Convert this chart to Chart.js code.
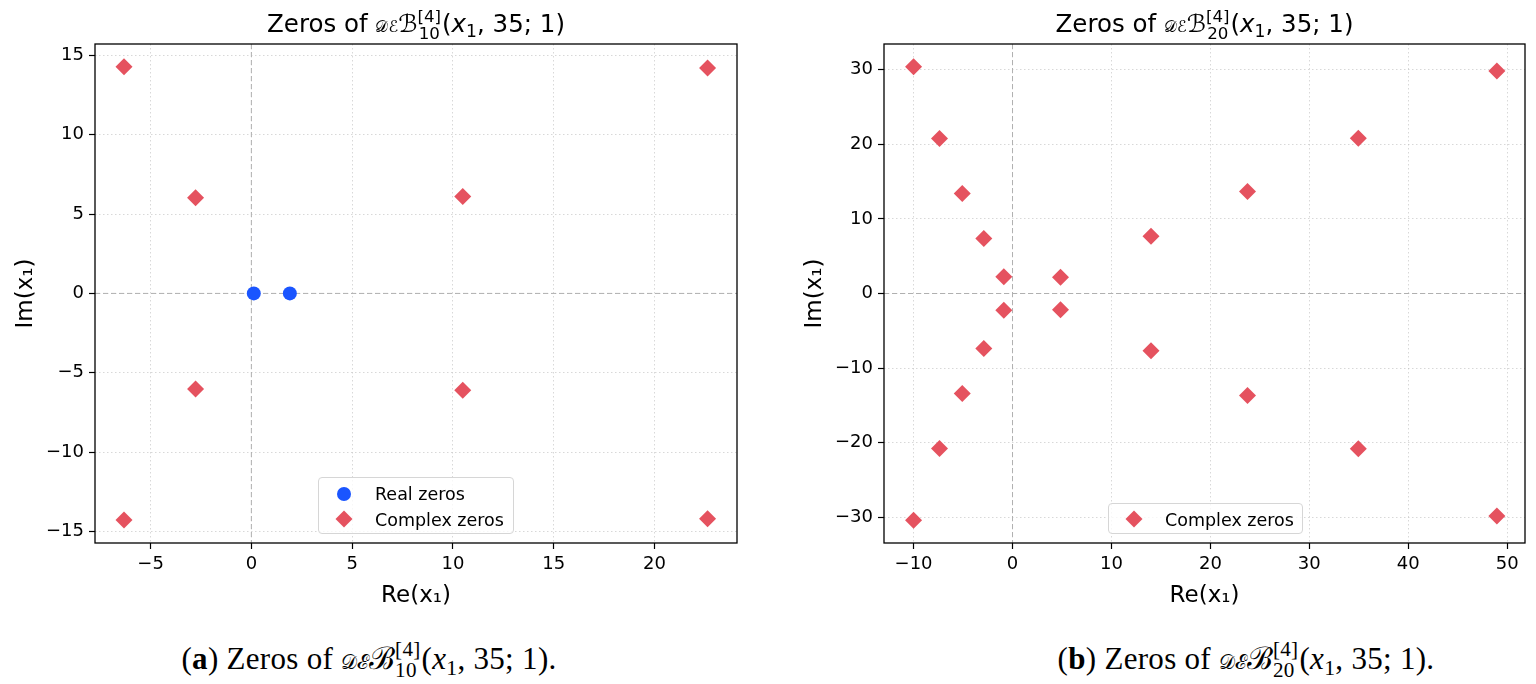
<!DOCTYPE html>
<html><head><meta charset="utf-8">
<script src="https://cdn.jsdelivr.net/npm/chart.js@4.4.1/dist/chart.umd.min.js"></script>
<style>
html,body{margin:0;padding:0;background:#fff;}
body{width:1536px;height:684px;position:relative;overflow:hidden;font-family:"DejaVu Sans",sans-serif;color:#000;}
.box{position:absolute;top:0;height:610px;width:768px;}
.title{position:absolute;top:9px;font-size:24.5px;line-height:1.2;text-align:center;white-space:nowrap;}
.pre{font-size:0.66em;}
.ss{display:inline-flex;flex-direction:column;font-size:0.68em;line-height:1;vertical-align:0.63em;margin-right:1px;}
.sub1{font-size:0.7em;vertical-align:-0.28em;}
.legend{position:absolute;border:1px solid #d6d6d6;border-radius:4px;background:rgba(255,255,255,0.8);font-size:17.5px;box-sizing:border-box;}
.item{position:absolute;white-space:nowrap;line-height:20px;}
.dot{position:absolute;width:14px;height:14px;border-radius:50%;background:#1a55ff;}
.dia{position:absolute;width:12px;height:12px;background:#e5525f;transform:rotate(45deg);}
.caption{position:absolute;top:639px;font-family:"Liberation Serif","DejaVu Serif",serif;font-size:31px;letter-spacing:0.3px;line-height:1.2;white-space:nowrap;transform:translateX(-50%);}
.caption .ss{font-size:0.68em;}
</style></head>
<body>
<div class="box" style="left:0"><canvas id="cA"></canvas></div>
<div class="box" style="left:768px"><canvas id="cB"></canvas></div>

<div class="title" style="left:95px;width:642px">Zeros of <span class="pre">𝒟ℰ</span>ℬ<span class="ss"><span>[4]</span><span>10</span></span>(<i>x</i><span class="sub1">1</span>, 35; 1)</div>
<div class="title" style="left:884px;width:641px">Zeros of <span class="pre">𝒟ℰ</span>ℬ<span class="ss"><span>[4]</span><span>20</span></span>(<i>x</i><span class="sub1">1</span>, 35; 1)</div>

<div class="legend" style="left:318px;top:477px;width:196px;height:57px">
  <div class="dot" style="left:18px;top:8.7px"></div>
  <div class="item" style="left:56px;top:5.7px">Real zeros</div>
  <div class="dia" style="left:19px;top:35.3px"></div>
  <div class="item" style="left:56px;top:32.3px">Complex zeros</div>
</div>
<div class="legend" style="left:1108px;top:503px;width:195px;height:31px">
  <div class="dia" style="left:18.7px;top:8.7px"></div>
  <div class="item" style="left:56px;top:5.7px">Complex zeros</div>
</div>

<div class="caption" style="left:369px">(<b>a</b>) Zeros of <span class="pre">𝒟ℰ</span>ℬ<span class="ss"><span>[4]</span><span>10</span></span>(<i>x</i><span class="sub1">1</span>, 35; 1).</div>
<div class="caption" style="left:1246px">(<b>b</b>) Zeros of <span class="pre">𝒟ℰ</span>ℬ<span class="ss"><span>[4]</span><span>20</span></span>(<i>x</i><span class="sub1">1</span>, 35; 1).</div>

<script>
// ---- data (a): degree 10 ----
const realA_re = [0.12, 1.91];
const realA_im = [0, 0];
const complexA_re = [-6.32, -6.32, -2.77, -2.77, 10.49, 10.49, 22.64, 22.64];
const complexA_im = [14.28, -14.28, 6.03, -6.03, 6.11, -6.11, 14.2, -14.2];
const xTicksA = [-5, 0, 5, 10, 15, 20];
const yTicksA = [-15, -10, -5, 0, 5, 10, 15];
const xRangeA = [-7.76, 24.1];
const yRangeA = [-15.73, 15.72];

// ---- data (b): degree 20 ----
const complexB_re = [-10.0, -10.0, -7.38, -7.38, -5.08, -5.08, -2.9, -2.9, -0.88, -0.88,
                     4.85, 4.85, 14.0, 14.0, 23.75, 23.75, 34.95, 34.95, 48.96, 48.96];
const complexB_im = [30.4, -30.4, 20.77, -20.77, 13.4, -13.4, 7.38, -7.38, 2.25, -2.25,
                     2.19, -2.19, 7.67, -7.67, 13.67, -13.67, 20.8, -20.8, 29.83, -29.83];
const xTicksB = [-10, 0, 10, 20, 30, 40, 50];
const yTicksB = [-30, -20, -10, 0, 10, 20, 30];
const xRangeB = [-12.99, 51.8];
const yRangeB = [-33.45, 33.45];

const RED = '#e5525f', BLUE = '#1a55ff';
const pts = (xs, ys) => xs.map((x, i) => ({x, y: ys[i]}));

const framePlugin = {
  id: 'frame',
  beforeDatasetsDraw(chart) {
    const {ctx, chartArea: a, scales: {x, y}} = chart;
    ctx.save();
    ctx.strokeStyle = '#b0b0b0';
    ctx.lineWidth = 1;
    ctx.setLineDash([5, 3]);
    const x0 = x.getPixelForValue(0), y0 = y.getPixelForValue(0);
    ctx.beginPath();
    ctx.moveTo(x0, a.top); ctx.lineTo(x0, a.bottom);
    ctx.moveTo(a.left, y0); ctx.lineTo(a.right, y0);
    ctx.stroke();
    ctx.restore();
  },
  afterDraw(chart) {
    const {ctx, chartArea: a} = chart;
    ctx.save();
    ctx.strokeStyle = '#000';
    ctx.lineWidth = 1.3;
    ctx.strokeRect(a.left, a.top, a.right - a.left, a.bottom - a.top);
    ctx.restore();
  }
};

function makeChart(id, datasets, xr, yr, xt, yt, yAxisW, padRight, yTitlePad) {
  const tickFont = {family: 'DejaVu Sans', size: 18};
  const gridOpts = {color: 'rgba(190,190,190,0.6)', lineWidth: 1, drawTicks: true, tickLength: 6, tickColor: '#000', tickWidth: 1.2, tickBorderDash: []};
  return new Chart(document.getElementById(id), {
    type: 'scatter',
    data: {datasets},
    options: {
      responsive: true, maintainAspectRatio: false, animation: false,
      layout: {padding: {left: 0, top: 44, right: padRight, bottom: 0}},
      plugins: {legend: {display: false}, tooltip: {enabled: false}},
      scales: {
        x: {
          type: 'linear', min: xr[0], max: xr[1],
          afterBuildTicks: s => { s.ticks = xt.map(v => ({value: v})); },
          afterFit: s => { s.height = 67; },
          ticks: {font: tickFont, color: '#000', padding: 5, maxRotation: 0,
                  callback: v => (v < 0 ? '\u2212' + Math.abs(v) : '' + v)},
          grid: gridOpts,
          border: {display: false, dash: [1.5, 2.5]},
          title: {display: true, text: 'Re(x\u2081)', color: '#000',
                  font: {family: 'DejaVu Sans', size: 23, lineHeight: 1.2}, padding: {top: 0, bottom: 0.5}}
        },
        y: {
          type: 'linear', min: yr[0], max: yr[1],
          afterBuildTicks: s => { s.ticks = yt.map(v => ({value: v})); },
          afterFit: s => { s.width = yAxisW; },
          ticks: {font: tickFont, color: '#000', padding: 5,
                  callback: v => (v < 0 ? '\u2212' + Math.abs(v) : '' + v)},
          grid: gridOpts,
          border: {display: false, dash: [1.5, 2.5]},
          title: {display: true, text: 'Im(x\u2081)', color: '#000',
                  font: {family: 'DejaVu Sans', size: 23, lineHeight: 1.2}, padding: {top: yTitlePad, bottom: 0}}
        }
      }
    },
    plugins: [framePlugin]
  });
}

makeChart('cA', [
  {label: 'Real zeros', data: pts(realA_re, realA_im), pointStyle: 'circle', pointRadius: 7,
   backgroundColor: BLUE, borderColor: BLUE, borderWidth: 0},
  {label: 'Complex zeros', data: pts(complexA_re, complexA_im), pointStyle: 'rectRot', pointRadius: 8.5,
   backgroundColor: RED, borderColor: RED, borderWidth: 0}
], xRangeA, yRangeA, xTicksA, yTicksA, 95, 31, 12.2);

makeChart('cB', [
  {label: 'Complex zeros', data: pts(complexB_re, complexB_im), pointStyle: 'rectRot', pointRadius: 8.5,
   backgroundColor: RED, borderColor: RED, borderWidth: 0}
], xRangeB, yRangeB, xTicksB, yTicksB, 116, 11, 33.2);
</script>
</body></html>
